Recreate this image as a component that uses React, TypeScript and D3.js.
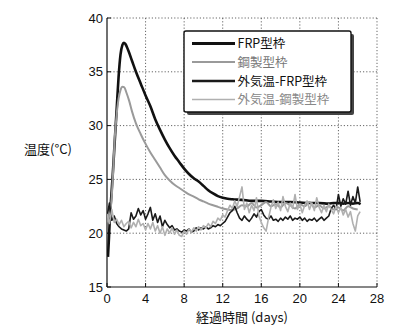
import React from "react";
import * as d3 from "d3";

const W = 397;
const H = 327;

const xTicks = [0, 4, 8, 12, 16, 20, 24, 28];
const yTicks = [15, 20, 25, 30, 35, 40];

const seriesNames = ["FRP型枠", "鋼製型枠", "外気温-FRP型枠", "外気温-鋼製型枠"];

const frpDays = [0.1, 0.2, 0.3, 0.45, 0.6, 0.8, 1.0, 1.2, 1.4, 1.6, 1.75, 1.9, 2.2, 2.6, 3.0, 3.5, 4.0, 4.5, 5.0, 5.5, 6.0, 6.5, 7.0, 7.5, 8.0, 8.5, 9.0, 9.5, 10.0, 10.5, 11.0, 11.5, 12.0, 12.5, 13.0, 14, 15, 16, 17, 18, 19, 20, 21, 22, 23, 23.5, 24, 24.5, 25, 25.5, 26, 26.3];
const frpTemp = [17.8, 19.5, 21.5, 23.5, 25.5, 28.5, 31.5, 34.5, 36.6, 37.5, 37.7, 37.6, 37.0, 36.0, 35.0, 33.9, 32.8, 31.8, 30.6, 29.6, 28.7, 27.9, 27.2, 26.6, 26.0, 25.5, 25.1, 24.8, 24.4, 24.0, 23.7, 23.45, 23.3, 23.2, 23.15, 23.1, 23.0, 23.0, 22.95, 22.9, 22.9, 22.85, 22.8, 22.8, 22.75, 22.8, 22.8, 22.75, 22.8, 22.75, 22.8, 22.7];

const steelDays = [0.05, 0.2, 0.35, 0.5, 0.65, 0.8, 1.0, 1.2, 1.4, 1.6, 1.8, 2.0, 2.3, 2.6, 3.0, 3.5, 4.0, 4.5, 5.0, 5.5, 6.0, 6.5, 7.0, 7.5, 8.0, 8.5, 9.0, 9.5, 10.0, 10.5, 11.0, 11.5, 12.0, 12.5, 13.0, 13.5, 14, 14.5, 15, 15.5, 16, 16.5, 17, 17.5, 18, 18.5, 19, 19.5, 20, 20.5, 21, 21.5, 22, 22.5, 23, 23.5, 24, 24.5, 25, 25.5, 26];
const steelTemp = [21.0, 21.5, 22.0, 23.5, 26.0, 28.8, 31.0, 32.5, 33.3, 33.6, 33.55, 33.1, 32.3, 31.3, 30.2, 29.2, 28.3, 27.5, 26.8, 26.1, 25.4, 24.9, 24.5, 24.2, 23.9, 23.6, 23.4, 23.15, 22.95, 22.75, 22.6, 22.45, 22.3, 22.2, 22.15, 22.3, 22.6, 22.5, 22.8, 22.4, 22.6, 22.9, 22.5, 22.7, 22.4, 22.8, 22.6, 22.3, 22.7, 22.5, 22.9, 22.4, 22.6, 22.3, 22.5, 22.2, 22.4, 22.1, 22.5, 22.3, 22.2];

const airStep = 0.25;
const airFrpTemp = [
  21.5, 22.8, 21.2, 21.6, 20.9, 20.6, 20.4, 20.3, 20.2, 20.4,
  21.9, 21.3, 21.6, 22.3, 21.7, 22.1, 21.3, 21.8, 22.4, 21.2,
  21.8, 21.0, 21.6, 20.6, 21.2, 20.8, 20.5, 20.7, 20.3, 20.4,
  20.2, 20.1, 20.3, 20.2, 20.4, 20.1, 20.2, 20.5, 20.3, 20.5,
  20.4, 20.6, 20.4, 20.5, 20.7, 20.6, 20.8, 20.7, 20.9, 21.1,
  21.5, 21.9, 22.1, 22.5, 21.9, 21.4, 21.2, 21.6, 21.3, 21.1,
  21.4, 21.8, 21.5, 22.0, 22.2, 21.7, 21.4, 21.3, 21.6, 21.2,
  21.3, 21.1, 21.4, 21.2, 21.5, 21.3, 21.6, 21.2, 21.4, 21.3,
  21.5, 21.2, 21.4, 21.1, 21.3, 21.2, 21.4, 21.1, 21.3, 21.5,
  21.2, 21.4, 21.6, 22.3, 22.6, 22.2, 23.6, 22.5, 23.2, 22.7,
  23.9, 22.6, 23.4, 22.8, 24.3, 22.9,
];
const airSteelTemp = [
  21.8, 20.9, 22.2, 21.0, 21.3, 20.8, 21.2, 20.6, 20.9, 21.1,
  20.5, 21.0, 20.6, 21.3, 20.7, 20.9, 20.3, 20.9, 20.4, 21.0,
  20.2, 20.7, 20.0, 20.6, 19.8, 20.4, 20.0, 20.5, 19.9, 20.3,
  19.8, 19.7, 20.2, 19.9, 20.4, 20.1, 20.5, 20.2, 20.6, 20.3,
  20.7, 20.5, 20.9, 20.6, 21.1, 20.9, 21.4, 21.2, 21.7, 21.5,
  22.1, 22.6, 22.3, 23.0, 22.5, 23.4, 24.3, 22.2, 22.8, 21.9,
  22.6, 22.1, 23.3, 21.6, 21.0, 20.5, 20.2, 21.4, 22.4, 23.1,
  22.3, 22.9, 22.1, 23.4, 22.5, 22.0, 22.8, 22.3, 23.6, 22.2,
  22.7, 21.9, 22.6, 23.0, 22.2, 22.8, 22.1, 23.3, 22.4, 21.9,
  22.6, 22.0, 22.7, 22.2, 21.8, 22.5, 21.9, 22.4, 21.7, 22.2,
  21.5, 22.0, 20.9, 20.2, 21.6, 22.0,
];

const M = { left: 107, top: 18, right: 377, bottom: 287 };

export default function App() {
  const x = d3.scaleLinear().domain([0, 28]).range([M.left, M.right]);
  const y = d3.scaleLinear().domain([15, 40]).range([M.bottom, M.top]);

  const smooth = d3
    .line<[number, number]>()
    .x((d) => x(d[0]))
    .y((d) => y(d[1]))
    .curve(d3.curveMonotoneX);
  const jag = d3
    .line<[number, number]>()
    .x((d) => x(d[0]))
    .y((d) => y(d[1]));

  const frp = frpDays.map((d, i) => [d, frpTemp[i]] as [number, number]);
  const steel = steelDays.map((d, i) => [d, steelTemp[i]] as [number, number]);
  const airFrp = airFrpTemp.map((v, i) => [i * airStep, v] as [number, number]);
  const airSteel = airSteelTemp.map((v, i) => [i * airStep, v] as [number, number]);

  const numFont = "'Liberation Sans', Arial, sans-serif";
  const jpFont = "'Noto Sans CJK JP', 'Noto Sans', sans-serif";

  const styles = [
    { stroke: "#111", width: 2.6, text: "#111", lw: 3 },
    { stroke: "#9a9a9a", width: 2, text: "#777", lw: 2 },
    { stroke: "#1a1a1a", width: 1.6, text: "#111", lw: 2.4 },
    { stroke: "#b0b0b0", width: 1.6, text: "#888", lw: 1.6 },
  ];

  const lg = { x: 184, y: 31, w: 167, h: 81 };
  const rowY = [43.5, 62, 81, 99.5];

  return (
    <div style={{ position: "fixed", left: 0, top: 0, width: W, height: H, background: "#fff" }}>
      <svg width={W} height={H} viewBox={`0 0 ${W} ${H}`}>
        <rect x={0} y={0} width={W} height={H} fill="#fff" />
        {/* grid */}
        {xTicks.slice(1).map((t) => (
          <line
            key={"gx" + t}
            x1={x(t)}
            x2={x(t)}
            y1={M.top}
            y2={M.bottom}
            stroke="#555"
            strokeWidth={0.9}
            strokeDasharray="1.2,2"
          />
        ))}
        {yTicks.slice(1).map((t) => (
          <line
            key={"gy" + t}
            x1={M.left}
            x2={M.right}
            y1={y(t)}
            y2={y(t)}
            stroke="#555"
            strokeWidth={0.9}
            strokeDasharray="1.2,2"
          />
        ))}
        {/* axes */}
        <line x1={M.left} x2={M.left} y1={M.top} y2={M.bottom} stroke="#111" strokeWidth={1.2} />
        <line x1={M.left} x2={M.right} y1={M.bottom} y2={M.bottom} stroke="#111" strokeWidth={1.2} />
        {xTicks.map((t) => (
          <line key={"tx" + t} x1={x(t)} x2={x(t)} y1={M.bottom} y2={M.bottom - 4} stroke="#111" strokeWidth={1} />
        ))}
        {yTicks.map((t) => (
          <line key={"ty" + t} x1={M.left} x2={M.left + 4} y1={y(t)} y2={y(t)} stroke="#111" strokeWidth={1} />
        ))}
        {/* tick labels */}
        {xTicks.map((t) => (
          <text
            key={"lx" + t}
            x={x(t)}
            y={M.bottom + 16}
            textAnchor="middle"
            fontFamily={numFont}
            fontSize={13}
            fill="#111"
          >
            {t}
          </text>
        ))}
        {yTicks.map((t) => (
          <text
            key={"ly" + t}
            x={M.left - 4}
            y={y(t) + 4.5}
            textAnchor="end"
            fontFamily={numFont}
            fontSize={13}
            fill="#111"
          >
            {t}
          </text>
        ))}
        <text x={242} y={322} textAnchor="middle" fontFamily={jpFont} fontSize={13} fill="#111">
          経過時間 (days)
        </text>
        <text x={24} y={154} textAnchor="start" fontFamily={jpFont} fontSize={13} fill="#111">
          温度(°C)
        </text>
        {/* series */}
        <g clipPath="url(#plotclip)">
          <path d={smooth(frp) || ""} fill="none" stroke={styles[0].stroke} strokeWidth={styles[0].width} />
          <path d={smooth(steel) || ""} fill="none" stroke={styles[1].stroke} strokeWidth={styles[1].width} />
          <path d={jag(airFrp) || ""} fill="none" stroke={styles[2].stroke} strokeWidth={styles[2].width} strokeLinejoin="round" />
          <path d={jag(airSteel) || ""} fill="none" stroke={styles[3].stroke} strokeWidth={styles[3].width} strokeLinejoin="round" />
        </g>
        <defs>
          <clipPath id="plotclip">
            <rect x={M.left} y={M.top} width={M.right - M.left} height={M.bottom - M.top} />
          </clipPath>
        </defs>
        {/* legend */}
        <rect x={lg.x + 3} y={lg.y + 3} width={lg.w} height={lg.h} rx={2} fill="#444" />
        <rect x={lg.x} y={lg.y} width={lg.w} height={lg.h} rx={2} fill="#fff" stroke="#111" strokeWidth={1.4} />
        {seriesNames.map((name, i) => (
          <g key={name}>
            <line
              x1={192}
              x2={235}
              y1={rowY[i]}
              y2={rowY[i]}
              stroke={styles[i].stroke}
              strokeWidth={styles[i].lw}
            />
            <text
              x={237.5}
              y={rowY[i] + 4.5}
              fontFamily={jpFont}
              fontSize={12.5}
              fill={styles[i].text}
            >
              {name}
            </text>
          </g>
        ))}
      </svg>
    </div>
  );
}
